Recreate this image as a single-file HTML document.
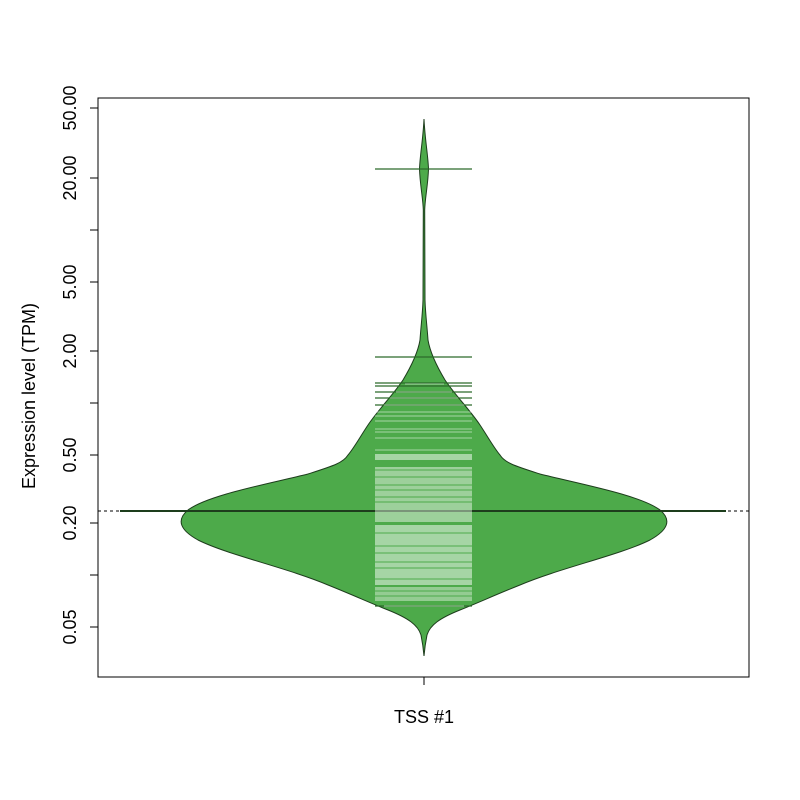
<!DOCTYPE html>
<html><head><style>
html,body{margin:0;padding:0;background:#fff;width:800px;height:800px;overflow:hidden}
svg text{font-family:"Liberation Sans",Arial,sans-serif;fill:#000}
</style></head><body>
<svg width="800" height="800" viewBox="0 0 800 800" xmlns="http://www.w3.org/2000/svg">
<rect x="98" y="98" width="651" height="579" fill="none" stroke="#000" stroke-width="1"/>
<g stroke="#000" stroke-width="1">
<line x1="98" y1="108" x2="98" y2="627"/>
<line x1="90" y1="108" x2="98" y2="108"/>
<line x1="90" y1="178" x2="98" y2="178"/>
<line x1="90" y1="230" x2="98" y2="230"/>
<line x1="90" y1="282" x2="98" y2="282"/>
<line x1="90" y1="351" x2="98" y2="351"/>
<line x1="90" y1="403" x2="98" y2="403"/>
<line x1="90" y1="455" x2="98" y2="455"/>
<line x1="90" y1="523" x2="98" y2="523"/>
<line x1="90" y1="575" x2="98" y2="575"/>
<line x1="90" y1="627" x2="98" y2="627"/>
<line x1="424" y1="677" x2="424" y2="685"/>
</g>
<g font-size="18" text-anchor="middle">
<text transform="translate(76,108) rotate(-90)">50.00</text>
<text transform="translate(76,178) rotate(-90)">20.00</text>
<text transform="translate(76,282) rotate(-90)">5.00</text>
<text transform="translate(76,351) rotate(-90)">2.00</text>
<text transform="translate(76,455) rotate(-90)">0.50</text>
<text transform="translate(76,523) rotate(-90)">0.20</text>
<text transform="translate(76,627) rotate(-90)">0.05</text>
<text transform="translate(35,396) rotate(-90)">Expression level (TPM)</text>
<text x="424" y="723">TSS #1</text>
</g>
<line x1="98" y1="511" x2="749" y2="511" stroke="#000" stroke-width="1" stroke-dasharray="3,3"/>
<path fill="#4daa4a" stroke="#1d3d1c" stroke-width="1" d="
M424,119 C425,140 428,155 428.5,169 C428,185 425,198 424.7,210 L425,300 C425.5,315 427,325 428,340
C430,352 436,365 445,380 C455,395 470,410 480,425 C488,437 494,448 500,455 C505,463 515,466 540,474
C580,484 640,495 660,510 C672,520 668,530 650,540 C620,555 560,568 520,585 C495,595 480,602 460,610
C440,618 430,625 427,635 C425,645 424.5,650 424,656
C423.5,650 423,645 421,635 C418,625 408,618 388,610 C368,602 353,595 328,585 C288,568 228,555 198,540
C180,530 176,520 188,510 C208,495 268,484 308,474 C333,466 343,463 348,455 C354,448 360,437 368,425
C378,410 393,395 403,380 C412,365 418,352 420,340 C421,325 422.5,315 423,300 L423.3,210
C423,198 420,185 419.5,169 C420,155 423,140 424,119 Z"/>
<g stroke="#2c6a2b" stroke-width="1.2">
<line x1="375" y1="169" x2="472" y2="169"/>
<line x1="375" y1="357" x2="472" y2="357"/>
<line x1="375" y1="383" x2="472" y2="383"/>
<line x1="375" y1="386" x2="472" y2="386"/>
<line x1="375" y1="392" x2="472" y2="392"/>
<line x1="375" y1="398" x2="472" y2="398"/>
<line x1="375" y1="405" x2="472" y2="405"/>
<line x1="375" y1="606" x2="472" y2="606"/>
</g>
<g stroke="#ffffff" stroke-opacity="0.5" stroke-width="1">
<line x1="405" y1="384" x2="444" y2="384"/>
<line x1="396" y1="392" x2="452" y2="392"/>
<line x1="390" y1="398" x2="458" y2="398"/>
<line x1="384" y1="405" x2="464" y2="405"/>
<line x1="375" y1="412" x2="472" y2="412"/>
<line x1="375" y1="416" x2="472" y2="416"/>
<line x1="375" y1="421" x2="472" y2="421"/>
<line x1="375" y1="429" x2="472" y2="429"/>
<line x1="375" y1="432" x2="472" y2="432"/>
<line x1="375" y1="438" x2="472" y2="438"/>
<line x1="375" y1="450" x2="472" y2="450"/>
</g>
<rect x="375" y="454" width="97" height="6" fill="#fff" fill-opacity="0.5"/>
<rect x="375" y="467" width="97" height="55" fill="#fff" fill-opacity="0.45"/>
<rect x="375" y="525" width="97" height="60" fill="#fff" fill-opacity="0.5"/>
<rect x="375" y="587" width="97" height="14" fill="#fff" fill-opacity="0.4"/>
<g stroke="#4daa4a" stroke-width="1">
<line x1="375" y1="470" x2="472" y2="470"/>
<line x1="375" y1="477" x2="472" y2="477"/>
<line x1="375" y1="485" x2="472" y2="485"/>
<line x1="375" y1="490" x2="472" y2="490"/>
<line x1="375" y1="497" x2="472" y2="497"/>
<line x1="375" y1="502" x2="472" y2="502"/>
<line x1="375" y1="533" x2="472" y2="533"/>
<line x1="375" y1="546" x2="472" y2="546"/>
<line x1="375" y1="553" x2="472" y2="553"/>
<line x1="375" y1="562" x2="472" y2="562"/>
<line x1="375" y1="568" x2="472" y2="568"/>
<line x1="375" y1="579" x2="472" y2="579"/>
<line x1="375" y1="591" x2="472" y2="591"/>
<line x1="375" y1="596" x2="472" y2="596"/>
</g>
<line x1="384" y1="606" x2="464" y2="606" stroke="#fff" stroke-opacity="0.5"/>
<line x1="120" y1="511" x2="726" y2="511" stroke="#1d3d1c" stroke-width="2"/>
<line x1="375" y1="511" x2="472" y2="511" stroke="#d7ecd6" stroke-width="2" stroke-opacity="0.5"/>
</svg>
</body></html>
